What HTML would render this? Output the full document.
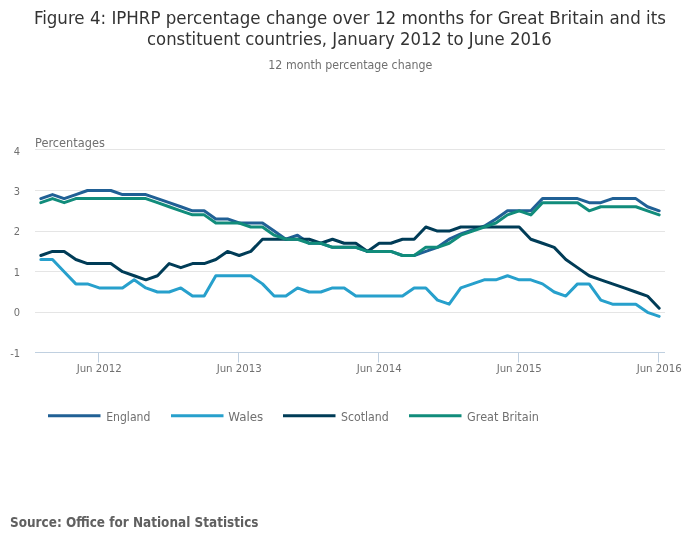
<!DOCTYPE html>
<html lang="en"><head><meta charset="utf-8"><title>Figure 4: IPHRP percentage change</title>
<style>html,body{margin:0;padding:0;background:#fff}body{width:700px;height:549px;overflow:hidden}svg{display:block;font-family:"DejaVu Sans Condensed","DejaVu Sans","Liberation Sans",sans-serif}</style></head><body>
<svg width="700" height="549" viewBox="0 0 700 549">
<rect width="700" height="549" fill="#fff"/>
<path d="M35 149.5 H665" stroke="#e5e5e5" stroke-width="1" fill="none"/>
<path d="M35 190.5 H665" stroke="#e5e5e5" stroke-width="1" fill="none"/>
<path d="M35 231.5 H665" stroke="#e5e5e5" stroke-width="1" fill="none"/>
<path d="M35 271.5 H665" stroke="#e5e5e5" stroke-width="1" fill="none"/>
<path d="M35 312.5 H665" stroke="#e5e5e5" stroke-width="1" fill="none"/>
<path d="M35 352.5 H665" stroke="#c0d0e0" stroke-width="1" fill="none"/>
<path d="M98.5 352.5 V362.5" stroke="#c0d0e0" stroke-width="1" fill="none"/>
<path d="M238.5 352.5 V362.5" stroke="#c0d0e0" stroke-width="1" fill="none"/>
<path d="M378.5 352.5 V362.5" stroke="#c0d0e0" stroke-width="1" fill="none"/>
<path d="M518.5 352.5 V362.5" stroke="#c0d0e0" stroke-width="1" fill="none"/>
<path d="M658.5 352.5 V362.5" stroke="#c0d0e0" stroke-width="1" fill="none"/>
<text x="349.9" y="24" font-size="18" fill="#333333" text-anchor="middle" textLength="632" lengthAdjust="spacingAndGlyphs">Figure 4: IPHRP percentage change over 12 months for Great Britain and its</text>
<text x="349.4" y="44.7" font-size="18" fill="#333333" text-anchor="middle" textLength="404.8" lengthAdjust="spacingAndGlyphs">constituent countries, January 2012 to June 2016</text>
<text x="350.3" y="68.9" font-size="12" fill="#707070" text-anchor="middle" textLength="163.9" lengthAdjust="spacingAndGlyphs">12 month percentage change</text>
<text x="35.1" y="147" font-size="12" fill="#707070" text-anchor="start" textLength="69.7" lengthAdjust="spacingAndGlyphs">Percentages</text>
<text x="20" y="155" font-size="11" fill="#707070" text-anchor="end">4</text>
<text x="20" y="195" font-size="11" fill="#707070" text-anchor="end">3</text>
<text x="20" y="235" font-size="11" fill="#707070" text-anchor="end">2</text>
<text x="20" y="276" font-size="11" fill="#707070" text-anchor="end">1</text>
<text x="20" y="316" font-size="11" fill="#707070" text-anchor="end">0</text>
<text x="20" y="357" font-size="11" fill="#707070" text-anchor="end">-1</text>
<text x="99.2" y="372" font-size="11" fill="#707070" text-anchor="middle" textLength="45.1" lengthAdjust="spacingAndGlyphs">Jun 2012</text>
<text x="239.2" y="372" font-size="11" fill="#707070" text-anchor="middle" textLength="45.1" lengthAdjust="spacingAndGlyphs">Jun 2013</text>
<text x="379.2" y="372" font-size="11" fill="#707070" text-anchor="middle" textLength="45.1" lengthAdjust="spacingAndGlyphs">Jun 2014</text>
<text x="519.2" y="372" font-size="11" fill="#707070" text-anchor="middle" textLength="45.1" lengthAdjust="spacingAndGlyphs">Jun 2015</text>
<text x="659.2" y="372" font-size="11" fill="#707070" text-anchor="middle" textLength="45.1" lengthAdjust="spacingAndGlyphs">Jun 2016</text>
<path d="M40.83 198.62 L52.50 194.56 L64.17 198.62 L75.83 194.56 L87.50 190.50 L99.17 190.50 L110.83 190.50 L122.50 194.56 L134.17 194.56 L145.83 194.56 L157.50 198.62 L169.17 202.68 L180.83 206.74 L192.50 210.80 L204.17 210.80 L215.83 218.92 L227.50 218.92 L239.17 222.98 L250.83 222.98 L262.50 222.98 L274.17 231.10 L285.83 239.22 L297.50 235.16 L309.17 243.28 L320.83 243.28 L332.50 247.34 L344.17 247.34 L355.83 247.34 L367.50 251.40 L379.17 251.40 L390.83 251.40 L402.50 255.46 L414.17 255.46 L425.83 251.40 L437.50 247.34 L449.17 239.22 L460.83 233.94 L472.50 229.88 L484.17 226.23 L495.83 218.92 L507.50 210.80 L519.17 210.80 L530.83 210.80 L542.50 198.62 L554.17 198.62 L565.83 198.62 L577.50 198.62 L589.17 202.68 L600.83 202.68 L612.50 198.62 L624.17 198.62 L635.83 198.62 L647.50 206.74 L659.17 210.80" stroke="#206095" stroke-width="3" fill="none" stroke-linejoin="round" stroke-linecap="round"/>
<path d="M40.83 259.52 L52.50 259.52 L64.17 271.70 L75.83 283.88 L87.50 283.88 L99.17 287.94 L110.83 287.94 L122.50 287.94 L134.17 279.82 L145.83 287.94 L157.50 292.00 L169.17 292.00 L180.83 287.94 L192.50 296.06 L204.17 296.06 L215.83 275.76 L227.50 275.76 L239.17 275.76 L250.83 275.76 L262.50 283.88 L274.17 296.06 L285.83 296.06 L297.50 287.94 L309.17 292.00 L320.83 292.00 L332.50 287.94 L344.17 287.94 L355.83 296.06 L367.50 296.06 L379.17 296.06 L390.83 296.06 L402.50 296.06 L414.17 287.94 L425.83 287.94 L437.50 300.12 L449.17 304.18 L460.83 287.94 L472.50 283.88 L484.17 279.82 L495.83 279.82 L507.50 275.76 L519.17 279.82 L530.83 279.82 L542.50 283.88 L554.17 292.00 L565.83 296.06 L577.50 283.88 L589.17 283.88 L600.83 300.12 L612.50 304.18 L624.17 304.18 L635.83 304.18 L647.50 312.30 L659.17 316.36" stroke="#27a0cc" stroke-width="3" fill="none" stroke-linejoin="round" stroke-linecap="round"/>
<path d="M40.83 255.46 L52.50 251.40 L64.17 251.40 L75.83 259.52 L87.50 263.58 L99.17 263.58 L110.83 263.58 L122.50 271.70 L134.17 275.76 L145.83 279.82 L157.50 275.76 L169.17 263.58 L180.83 267.64 L192.50 263.58 L204.17 263.58 L215.83 259.52 L227.50 251.40 L239.17 255.46 L250.83 251.40 L262.50 239.22 L274.17 239.22 L285.83 239.22 L297.50 239.22 L309.17 239.22 L320.83 243.28 L332.50 239.22 L344.17 243.28 L355.83 243.28 L367.50 251.40 L379.17 243.28 L390.83 243.28 L402.50 239.22 L414.17 239.22 L425.83 227.04 L437.50 231.10 L449.17 231.10 L460.83 227.04 L472.50 227.04 L484.17 227.04 L495.83 227.04 L507.50 227.04 L519.17 227.04 L530.83 239.22 L542.50 243.28 L554.17 247.34 L565.83 259.52 L577.50 267.64 L589.17 275.76 L600.83 279.82 L612.50 283.88 L624.17 287.94 L635.83 292.00 L647.50 296.06 L659.17 308.24" stroke="#003c57" stroke-width="3" fill="none" stroke-linejoin="round" stroke-linecap="round"/>
<path d="M40.83 202.68 L52.50 198.62 L64.17 202.68 L75.83 198.62 L87.50 198.62 L99.17 198.62 L110.83 198.62 L122.50 198.62 L134.17 198.62 L145.83 198.62 L157.50 202.68 L169.17 206.74 L180.83 210.80 L192.50 214.86 L204.17 214.86 L215.83 222.98 L227.50 222.98 L239.17 222.98 L250.83 227.04 L262.50 227.04 L274.17 235.16 L285.83 239.22 L297.50 239.22 L309.17 243.28 L320.83 243.28 L332.50 247.34 L344.17 247.34 L355.83 247.34 L367.50 251.40 L379.17 251.40 L390.83 251.40 L402.50 255.46 L414.17 255.46 L425.83 247.34 L437.50 247.34 L449.17 243.28 L460.83 235.16 L472.50 231.10 L484.17 227.04 L495.83 222.98 L507.50 214.86 L519.17 210.80 L530.83 214.86 L542.50 202.68 L554.17 202.68 L565.83 202.68 L577.50 202.68 L589.17 210.80 L600.83 206.74 L612.50 206.74 L624.17 206.74 L635.83 206.74 L647.50 210.80 L659.17 214.86" stroke="#118c7b" stroke-width="3" fill="none" stroke-linejoin="round" stroke-linecap="round"/>
<path d="M48 415.7 H100.5" stroke="#206095" stroke-width="3" fill="none"/>
<text x="106.2" y="420.7" font-size="12" fill="#707070" text-anchor="start" textLength="44.2" lengthAdjust="spacingAndGlyphs">England</text>
<path d="M171 415.7 H223.5" stroke="#27a0cc" stroke-width="3" fill="none"/>
<text x="228.3" y="420.7" font-size="12" fill="#707070" text-anchor="start" textLength="34.9" lengthAdjust="spacingAndGlyphs">Wales</text>
<path d="M283 415.7 H335.5" stroke="#003c57" stroke-width="3" fill="none"/>
<text x="341.0" y="420.7" font-size="12" fill="#707070" text-anchor="start" textLength="47.8" lengthAdjust="spacingAndGlyphs">Scotland</text>
<path d="M409 415.7 H461.5" stroke="#118c7b" stroke-width="3" fill="none"/>
<text x="467.1" y="420.7" font-size="12" fill="#707070" text-anchor="start" textLength="71.8" lengthAdjust="spacingAndGlyphs">Great Britain</text>
<text x="10" y="526.6" font-size="14" fill="#606060" text-anchor="start" font-weight="bold" textLength="248.5" lengthAdjust="spacingAndGlyphs">Source: Office for National Statistics</text>
</svg></body></html>
